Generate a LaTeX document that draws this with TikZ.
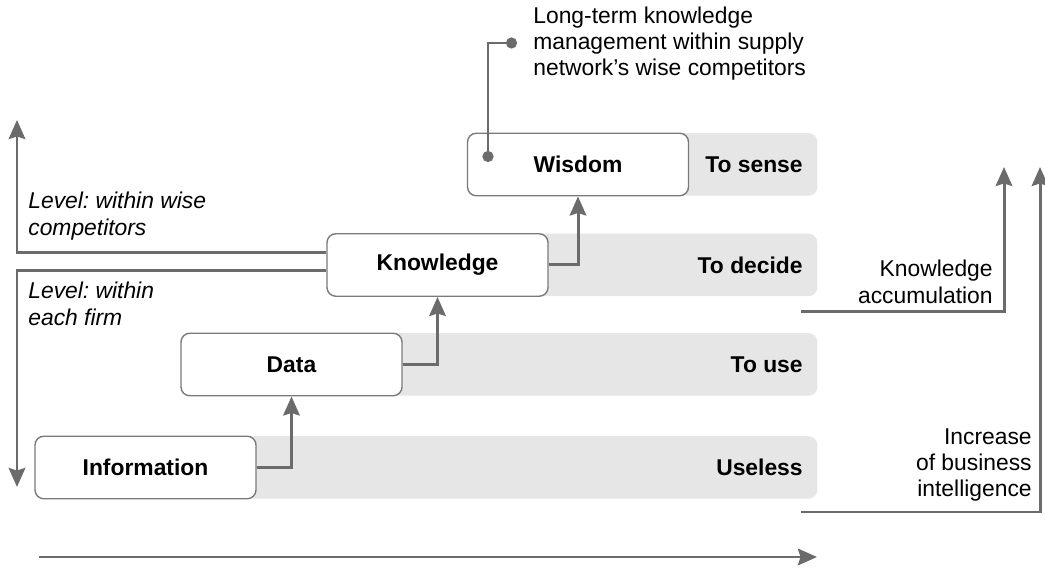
\documentclass[tikz,border=0pt]{standalone}
\usepackage{fontspec}
\setmainfont{Liberation Sans}
\frenchspacing
\usetikzlibrary{arrows.meta}
\definecolor{line-gray}{HTML}{6B6B6B}
\definecolor{box-gray}{HTML}{7A7A7A}
\definecolor{band-gray}{HTML}{E6E6E6}

\begin{document}
\begin{tikzpicture}[
    every node/.style={font=\fontsize{13}{15}\selectfont},
    stage/.style={draw=box-gray, line width=0.8pt, fill=white, rounded corners=5pt,
                  minimum width=4.42cm, minimum height=1.25cm, font=\fontsize{13}{15}\selectfont\bfseries},
    band/.style={fill=band-gray, rounded corners=5pt, minimum width=7cm, minimum height=1.25cm,
                 anchor=west, inner sep=0pt},
    bandlbl/.style={anchor=east, inner sep=0pt, font=\fontsize{13}{15}\selectfont\bfseries},
    note/.style={inner sep=0pt, align=left},
    flow/.style={line width=1.7pt, color=line-gray,
                 -{Stealth[length=3.8mm, width=3.3mm, inset=0.5mm]}},
    link/.style={line width=1.6pt, color=line-gray,
                 {Circle[length=2.2mm]}-{Circle[length=2.2mm]}}
  ]
    % Diagram: four stages stepping up to the right, each on a grey band.
    % Coordinates: (x, y)
    %   bands end at x=16.34, labels right-aligned at x=16.06
    %   stage boxes 4.42cm x 1.25cm, step 2.92cm right and 2.03cm up
    %   left level arrows at x=0.34, right arrows at x=20.08 and x=20.8
    \useasboundingbox (0,0) rectangle (20.9,11.38);

    % grey bands (drawn first, boxes sit on their left ends)
    \node[band, minimum width=15.40cm] (infoband) at (0.94,2.03) {};
    \node[band, minimum width=12.40cm] (databand) at (3.94,4.09) {};
    \node[band, minimum width=9.70cm] (knowband) at (6.64,6.08) {};
    \node[band, minimum width=6.88cm] (wisband) at (9.46,8.09) {};

    \node[bandlbl] (uselesslbl) at (16.06,2.03) {Useless};
    \node[bandlbl] (uselbl) at (16.06,4.09) {To use};
    \node[bandlbl] (decidelbl) at (16.06,6.08) {To decide};
    \node[bandlbl] (senselbl) at (16.06,8.09) {To sense};

    % stage boxes
    \node[stage] (info) at (2.91,2.03) {Information};
    \node[stage] (data) at (5.83,4.09) {Data};
    \node[stage] (know) at (8.75,6.08) {Knowledge};
    \node[stage] (wis) at (11.56,8.09) {Wisdom};

    \draw[flow] (info.east) -| (data.south);
    \draw[flow] (data.east) -| (know.south);
    \draw[flow] (know.east) -| (wis.south);

    % long-term note
    \node[note, anchor=west] (ltnote) at (10.66,10.51)
      {Long-term knowledge\\management within supply\\network’s wise competitors};
    \coordinate (notedot) at (10.34,10.52);
    \coordinate (wisdot) at (9.76,8.14);
    \draw[link] (notedot) -| (wisdot);

    % level arrows on the left
    \coordinate (wisetop) at (0.34,8.98);
    \coordinate (firmbot) at (0.34,1.64);
    \draw[flow] ([yshift=0.24cm]know.west) -| (wisetop);
    \draw[flow] ([yshift=-0.12cm]know.west) -| (firmbot);
    \node[note, anchor=west, font=\fontsize{13}{15}\selectfont\itshape] (wiselbl) at (0.56,7.06)
      {Level: within wise\\competitors};
    \node[note, anchor=west, font=\fontsize{13}{15}\selectfont\itshape] (firmlbl) at (0.56,5.30)
      {Level: within\\each firm};

    % accumulation arrows on the right
    \coordinate (kastart) at (16.02,5.14);
    \coordinate (katop) at (20.08,8.04);
    \draw[flow] (kastart) -| (katop);
    \node[note, anchor=east, align=right] (kalbl) at (19.86,5.74)
      {Knowledge\\accumulation};
    \coordinate (bistart) at (16.02,1.14);
    \coordinate (bitop) at (20.80,8.04);
    \draw[flow] (bistart) -| (bitop);
    \node[note, anchor=east, align=right] (bilbl) at (20.64,2.08)
      {Increase\\of business\\intelligence};

    % bottom axis
    \coordinate (axstart) at (0.78,0.24);
    \coordinate (axend) at (16.34,0.24);
    \draw[flow] (axstart) -- (axend);
  \end{tikzpicture}
\end{document}
